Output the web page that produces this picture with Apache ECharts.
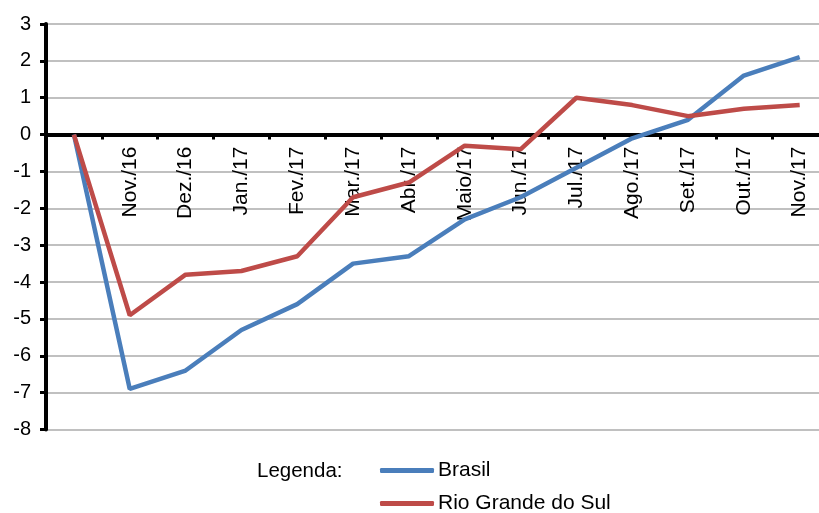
<!DOCTYPE html>
<html>
<head>
<meta charset="utf-8">
<script src="https://cdn.jsdelivr.net/npm/echarts@6/dist/echarts.min.js"></script>
<style>html,body{margin:0;padding:0;background:#fff}#c{width:819px;height:513px}</style>
</head>
<body>
<div id="c"></div>
<script>
const categories = ['', 'Nov./16', 'Dez./16', 'Jan./17', 'Fev./17', 'Mar./17', 'Abr./17', 'Maio/17', 'Jun./17', 'Jul./17', 'Ago./17', 'Set./17', 'Out./17', 'Nov./17'];
const brasil = [0, -6.9, -6.4, -5.3, -4.6, -3.5, -3.3, -2.3, -1.7, -0.9, -0.1, 0.4, 1.6, 2.1];
const rioGrandeDoSul = [0, -4.9, -3.8, -3.7, -3.3, -1.7, -1.3, -0.3, -0.4, 1.0, 0.8, 0.5, 0.7, 0.8];
const seriesNames = ['Brasil', 'Rio Grande do Sul'];
const legendTitle = 'Legenda:';
const yMin = -8, yMax = 3, yStep = 1;

const FONT = '"Liberation Sans", Arial, sans-serif';
const GRID_TOP = 24, GRID_HEIGHT = 405.5;
const zeroOffset = -GRID_HEIGHT * (0 - yMin) / (yMax - yMin);
const chart = echarts.init(document.getElementById('c'), null, {renderer: 'canvas'});
chart.setOption({
  animation: false,
  backgroundColor: '#ffffff',
  textStyle: {fontFamily: FONT},
  grid: {left: 46, top: GRID_TOP, height: GRID_HEIGHT, width: 781.6, containLabel: false, outerBoundsMode: 'none'},
  xAxis: {
    type: 'category',
    data: categories,
    boundaryGap: true,
    position: 'bottom',
    offset: zeroOffset,
    axisLine: {onZero: false, lineStyle: {color: '#000', width: 4}},
    axisTick: {show: true, length: 5, inside: false, lineStyle: {color: '#000', width: 3}},
    axisLabel: {interval: 0, rotate: 90, margin: 12, color: '#000', fontSize: 21, fontFamily: FONT},
    splitLine: {show: false}
  },
  yAxis: {
    type: 'value',
    min: yMin, max: yMax, interval: yStep,
    axisLine: {show: true, lineStyle: {color: '#000', width: 4}},
    axisTick: {show: true, length: 6, lineStyle: {color: '#000', width: 3}},
    axisLabel: {color: '#000', fontSize: 20, margin: 15, fontFamily: FONT},
    splitLine: {show: true, lineStyle: {color: '#c0c0c0', width: 2}}
  },
  legend: {
    orient: 'vertical',
    left: 380,
    top: 460,
    padding: 0,
    height: 60,
    icon: 'roundRect',
    itemWidth: 54,
    itemHeight: 5,
    itemGap: 12,
    textStyle: {color: '#000', fontSize: 21, fontFamily: FONT, padding: [0, 0, 0, -1]},
    data: seriesNames
  },
  graphic: [{
    type: 'text',
    left: 257,
    top: 461,
    style: {text: legendTitle, fill: '#000', font: '20.5px ' + FONT}
  }],
  series: [
    {name: seriesNames[0], type: 'line', data: brasil, symbol: 'none', lineStyle: {color: '#4a7ebb', width: 4.5}, itemStyle: {color: '#4a7ebb'}, z: 3},
    {name: seriesNames[1], type: 'line', data: rioGrandeDoSul, symbol: 'none', lineStyle: {color: '#be4b48', width: 4.5}, itemStyle: {color: '#be4b48'}, z: 4}
  ]
});
</script>
</body>
</html>
